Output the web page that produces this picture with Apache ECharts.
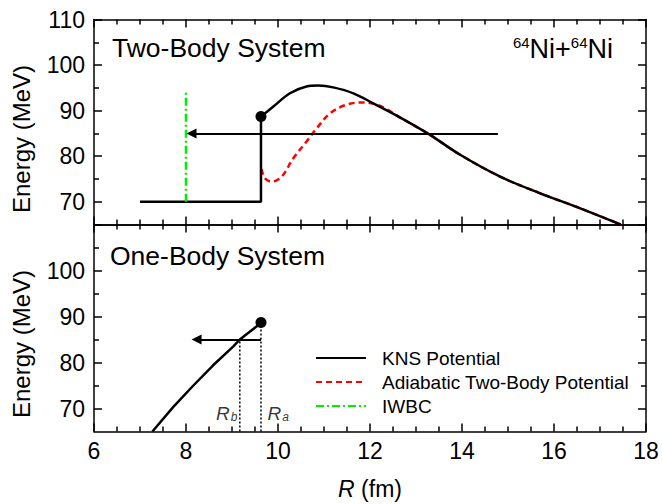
<!DOCTYPE html>
<html><head><meta charset="utf-8">
<script src="https://cdn.jsdelivr.net/npm/echarts@6/dist/echarts.min.js"></script>
<style>html,body{margin:0;padding:0;background:#fff}#c{width:662px;height:504px}</style>
</head><body><div id="c"></div>
<script>
// ---- data ----
const knsStepTop = [[7, 70], [9.63, 70], [9.63, 88.7]];
const knsCurveTop = [[9.63, 88.7], [9.9, 90.9], [10.26, 93.8], [10.62, 95.3], [10.88, 95.5], [11.2, 95.1], [11.64, 93.8], [12.07, 91.6], [12.6, 88.8], [13.27, 84.9], [13.96, 80.3], [14.83, 75.5], [15.7, 71.85], [16.57, 68.55], [17.45, 65.0]];
const adiabaticTop = [[9.64, 77.2], [9.72, 75.1], [9.86, 74.4], [10.08, 75.5], [10.33, 79.5], [10.62, 83.2], [10.84, 86.1], [11.13, 89.4], [11.49, 91.3], [11.85, 91.8], [12.14, 91.3], [12.36, 90.3], [12.6, 88.8], [13.27, 84.9], [13.96, 80.3], [14.83, 75.5], [15.7, 71.85], [16.57, 68.55], [17.45, 65.0]];
const iwbcTop = [[8, 70], [8, 94.2]];
const touchPoint = [[9.63, 88.7]];
const arrowTop = [[14.78, 85], [8.12, 85]];
const knsBottom = [[7.27, 65], [7.72, 70.3], [8.16, 75.0], [8.59, 79.4], [9.03, 83.5], [9.17, 85.0], [9.54, 87.9], [9.63, 88.7]];
const arrowBottom = [[9.63, 85], [8.23, 85]];
const rbLine = [[9.17, 65], [9.17, 85]];
const raLine = [[9.63, 65], [9.63, 88.7]];
const radiusMarks = [[9.17, 65, 'b'], [9.63, 65, 'a']];
const xRange = [6, 18];
const yRange = [65, 110];
const yMajorRange = [70, 110];   // major ticks / labels every 10
const yMinorRange = [75, 105];   // minor ticks every 10, shifted by 5
const yTickLabelsTop = [70, 80, 90, 100, 110];
const yTickLabelsBottom = [70, 80, 90, 100];
const legendNames = ['KNS Potential', 'Adiabatic Two-Body Potential', 'IWBC'];
const panelTitles = ['Two-Body System', 'One-Body System'];
const yName = 'Energy (MeV)';

// ---- layout & styling ----
const FONT = 'Liberation Sans, Arial, sans-serif';
const AX = { color: '#000', width: 1.5 };
const L = 94, W = 552, R = L + W;
const panels = [{ top: 19.5, h: 205 }, { top: 224.5, h: 207 }];
function vspan(p, r) {
  const k = p.h / (yRange[1] - yRange[0]);
  return { top: p.top + (yRange[1] - r[1]) * k, height: (r[1] - r[0]) * k };
}
const grids = [], xAxes = [], yAxes = [];
function addGrid(g) { grids.push(g); return grids.length - 1; }
function xAx(grid, pos, o) {
  o = o || {};
  const a = {
    type: 'value', gridIndex: grid, position: pos, min: xRange[0], max: xRange[1], interval: 2,
    axisLine: { show: !!o.line, onZero: false, lineStyle: AX },
    axisTick: { show: !!o.ticks, length: 8, lineStyle: AX },
    minorTick: { show: !!o.ticks, splitNumber: 4, length: 5, lineStyle: AX },
    axisLabel: o.labels ? { show: true, color: '#000', fontSize: 23 } : { show: false },
    splitLine: { show: false }
  };
  if (o.name) Object.assign(a, o.name);
  xAxes.push(a); return xAxes.length - 1;
}
function yAx(grid, pos, range, o) {
  o = o || {};
  const a = {
    type: 'value', gridIndex: grid, position: pos, min: range[0], max: range[1],
    axisLine: { show: !!o.line, onZero: false, lineStyle: AX },
    axisTick: { show: !!o.tickLen, length: o.tickLen || 5, lineStyle: AX },
    axisLabel: o.labels ? { show: true, color: '#000', fontSize: 23, margin: 9,
      formatter: function (v) { return o.labels.indexOf(v) >= 0 ? String(v) : ''; } } : { show: false },
    splitLine: { show: false }
  };
  if (o.interval) a.interval = o.interval;
  yAxes.push(a); return yAxes.length - 1;
}
function hiddenX(grid) { xAxes.push({ type: 'value', gridIndex: grid, show: false, min: xRange[0], max: xRange[1], splitLine: { show: false } }); }
function hiddenY(grid) { yAxes.push({ type: 'value', gridIndex: grid, show: false, min: yRange[0], max: yRange[1], splitLine: { show: false } }); }

// main panels (data axes): two x axes and one y axis each
const g0 = addGrid({ left: L, width: W, top: panels[0].top, height: panels[0].h });
const g1 = addGrid({ left: L, width: W, top: panels[1].top, height: panels[1].h });
const xTop = xAx(g0, 'bottom', { line: true, ticks: true });   // ticks point down into the lower panel
xAx(g0, 'top', { line: true });
const xBot = xAx(g1, 'bottom', { line: true, labels: true, name: {
  name: '{i|R} (fm)', nameLocation: 'middle', nameGap: 46,
  nameTextStyle: { fontSize: 23, color: '#000', rich: { i: { fontStyle: 'italic', fontSize: 23, color: '#000' } } } } });
xAx(g1, 'top', { line: true, ticks: true });                   // ticks point up into the upper panel
const yTop = yAx(g0, 'left', yRange, { line: true });
const yBot = yAx(g1, 'left', yRange, { line: true });
// strips whose edges coincide with the outer frame: their outward ticks point into the panels
const gTopStrip = addGrid({ left: L, width: W, top: 0, height: panels[0].top });
xAx(gTopStrip, 'bottom', { ticks: true }); hiddenY(gTopStrip);
const gBotStrip = addGrid({ left: L, width: W, top: panels[1].top + panels[1].h, height: 504 - panels[1].top - panels[1].h });
xAx(gBotStrip, 'top', { ticks: true }); hiddenY(gBotStrip);
panels.forEach(function (p, pi) {
  // right frame line
  const gFrame = addGrid({ left: R, width: 662 - R, top: p.top, height: p.h });
  hiddenX(gFrame); yAx(gFrame, 'left', yRange, { line: true });
  [[yMajorRange, 8], [yMinorRange, 5]].forEach(function (rt) {
    const vs = vspan(p, rt[0]);
    const gl = addGrid({ left: 0, width: L, top: vs.top, height: vs.height });
    hiddenX(gl); yAx(gl, 'right', rt[0], { interval: 10, tickLen: rt[1] });
    const gr = addGrid({ left: R, width: 662 - R, top: vs.top, height: vs.height });
    hiddenX(gr); yAx(gr, 'left', rt[0], { interval: 10, tickLen: rt[1] });
  });
  const vs = vspan(p, yMajorRange);
  const gLab = addGrid({ left: L, width: W, top: vs.top, height: vs.height });
  hiddenX(gLab); yAx(gLab, 'left', yMajorRange, { interval: 10, labels: pi === 0 ? yTickLabelsTop : yTickLabelsBottom });
});

const blackLine = { color: '#000', width: 2.5 };
const option = {
  animation: false,
  backgroundColor: '#fff',
  textStyle: { fontFamily: FONT },
  grid: grids, xAxis: xAxes, yAxis: yAxes,
  legend: {
    data: legendNames, orient: 'vertical', left: 315, top: 348, padding: 0,
    itemWidth: 50, itemHeight: 14, itemGap: 4, selectedMode: false,
    itemStyle: { opacity: 0 },
    textStyle: { fontSize: 19, color: '#000', lineHeight: 20, padding: [0, 0, 0, 11] }
  },
  graphic: [
    { type: 'text', x: 112, y: 48, style: { text: panelTitles[0], fontSize: 26.5, fontFamily: FONT, fill: '#000', verticalAlign: 'middle' } },
    { type: 'text', x: 110, y: 256, style: { text: panelTitles[1], fontSize: 26.5, fontFamily: FONT, fill: '#000', verticalAlign: 'middle' } },
    { type: 'text', x: 613, y: 35.3, style: {
        text: '{s|64}{m|Ni+}{s|64}{m|Ni}', align: 'right', verticalAlign: 'top', fill: '#000',
        rich: {
          s: { fontSize: 15, lineHeight: 15, verticalAlign: 'top', fontFamily: FONT, fill: '#000' },
          m: { fontSize: 27, lineHeight: 27, padding: [8.5, 0, 0, 0], verticalAlign: 'bottom', fontFamily: FONT, fill: '#000' }
        } } },
    { type: 'text', x: 21, y: 139, rotation: Math.PI / 2, style: { text: yName, fontSize: 24, fontFamily: FONT, fill: '#000', align: 'center', verticalAlign: 'middle' } },
    { type: 'text', x: 21, y: 344, rotation: Math.PI / 2, style: { text: yName, fontSize: 24, fontFamily: FONT, fill: '#000', align: 'center', verticalAlign: 'middle' } }
  ],
  series: [
    { name: legendNames[1], type: 'line', xAxisIndex: xTop, yAxisIndex: yTop, data: adiabaticTop, smooth: 0.35, symbol: 'none',
      lineStyle: { color: '#ff0000', width: 2.5, type: [6, 4] }, itemStyle: { color: '#ff0000' } },
    { name: legendNames[0], type: 'line', xAxisIndex: xTop, yAxisIndex: yTop, data: knsStepTop, symbol: 'none',
      lineStyle: blackLine, itemStyle: { color: '#000' } },
    { name: legendNames[0], type: 'line', xAxisIndex: xTop, yAxisIndex: yTop, data: knsCurveTop, smooth: 0.35, symbol: 'none',
      lineStyle: blackLine, itemStyle: { color: '#000' } },
    { name: legendNames[2], type: 'line', xAxisIndex: xTop, yAxisIndex: yTop, data: iwbcTop, symbol: 'none',
      lineStyle: { color: '#00ee00', width: 2.5, type: [8, 3, 2, 3] }, itemStyle: { color: '#00ee00' } },
    { type: 'lines', coordinateSystem: 'cartesian2d', xAxisIndex: xTop, yAxisIndex: yTop,
      data: [{ coords: arrowTop }], symbol: ['none', 'triangle'], symbolSize: 10,
      lineStyle: { color: '#000', width: 2, opacity: 1 }, z: 4 },
    { type: 'scatter', xAxisIndex: xTop, yAxisIndex: yTop, data: touchPoint, symbolSize: 11, itemStyle: { color: '#000', opacity: 1 }, z: 5 },

    { name: legendNames[0], type: 'line', xAxisIndex: xBot, yAxisIndex: yBot, data: knsBottom, symbol: 'none',
      lineStyle: blackLine, itemStyle: { color: '#000' } },
    { type: 'lines', coordinateSystem: 'cartesian2d', xAxisIndex: xBot, yAxisIndex: yBot,
      data: [{ coords: arrowBottom }], symbol: ['none', 'triangle'], symbolSize: 10,
      lineStyle: { color: '#000', width: 2, opacity: 1 }, z: 4 },
    { type: 'line', xAxisIndex: xBot, yAxisIndex: yBot, data: rbLine, symbol: 'none',
      lineStyle: { color: '#000', width: 1.5, type: [2, 2] } },
    { type: 'line', xAxisIndex: xBot, yAxisIndex: yBot, data: raLine, symbol: 'none',
      lineStyle: { color: '#000', width: 1.5, type: [2, 2] } },
    { type: 'scatter', xAxisIndex: xBot, yAxisIndex: yBot, data: touchPoint, symbolSize: 11, itemStyle: { color: '#000', opacity: 1 }, z: 5 },
    { type: 'scatter', xAxisIndex: xBot, yAxisIndex: yBot, symbolSize: 1, itemStyle: { color: 'rgba(0,0,0,0)' }, z: 6,
      data: radiusMarks.map(function (d) {
        return {
          value: d,
          label: {
            show: true, color: '#000', position: d[2] === 'b' ? 'left' : 'right', distance: d[2] === 'b' ? 2 : 6, offset: [0, -18],
            formatter: '{r|R}{s|' + d[2] + '}',
            rich: {
              r: { fontStyle: 'italic', fontSize: 19, lineHeight: 19, verticalAlign: 'top', color: '#000' },
              s: { fontStyle: 'italic', fontSize: 12, lineHeight: 12, padding: [12, 0, 0, 1], verticalAlign: 'bottom', color: '#000' }
            }
          }
        };
      })
    }
  ]
};
const chart = echarts.init(document.getElementById('c'), null, { renderer: 'svg', width: 662, height: 504 });
chart.setOption(option);
</script>
</body></html>
